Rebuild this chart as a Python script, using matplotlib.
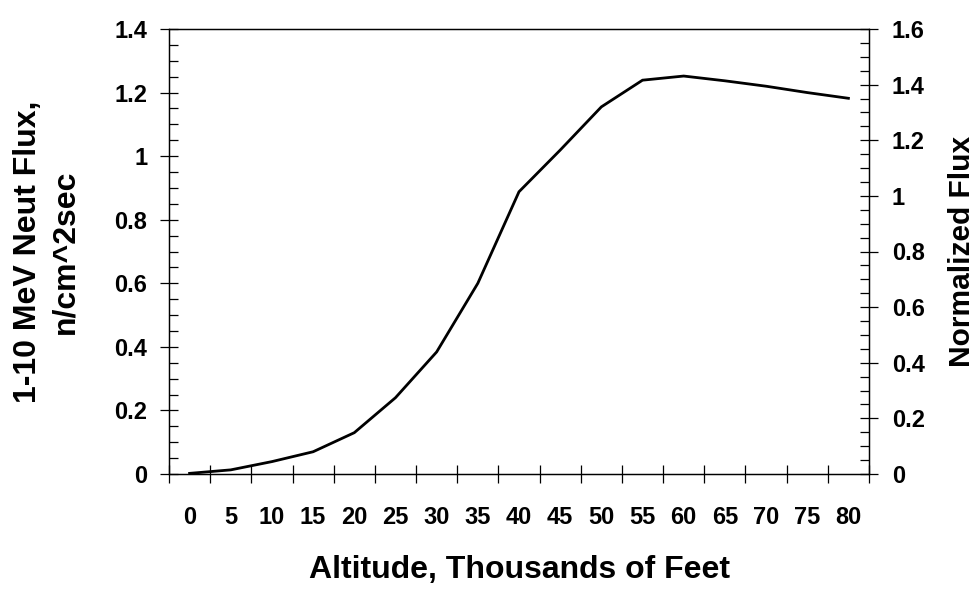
import numpy as np
import matplotlib
matplotlib.use("Agg")
import matplotlib.pyplot as plt
from matplotlib.ticker import FixedLocator, MultipleLocator

plt.rcParams["font.family"] = ["Liberation Sans", "DejaVu Sans"]

# altitude categories (thousands of feet) and flux
altitude = [0, 5, 10, 15, 20, 25, 30, 35, 40, 45, 50, 55, 60, 65, 70, 75, 80]
flux = [0.002, 0.013, 0.039, 0.07, 0.13, 0.24, 0.384, 0.60, 0.888, 1.019,
        1.155, 1.239, 1.252, 1.237, 1.22, 1.2, 1.182]
left_ticks = [0, 0.2, 0.4, 0.6, 0.8, 1, 1.2, 1.4]
right_ticks = [0, 0.2, 0.4, 0.6, 0.8, 1, 1.2, 1.4, 1.6]

TICK_FS = 17
LABEL_FS = 23

fig = plt.figure(figsize=(9.8, 5.89), dpi=100)
ax = fig.add_axes([169/980, 1-474/589, 700/980, 445/589])

pos = np.arange(len(altitude))
ax.plot(pos, flux, color="black", lw=2.0, solid_joinstyle="miter")

ax.set_xlim(-0.5, len(altitude) - 0.5)
ax.set_ylim(0, 1.4)

# category axis: tick marks between categories, labels at centres
ax.xaxis.set_major_locator(FixedLocator(np.arange(-0.5, len(altitude), 1.0)))
ax.xaxis.set_major_formatter(plt.NullFormatter())
ax.xaxis.set_minor_locator(FixedLocator(pos))
ax.set_xticklabels([str(a) for a in altitude], minor=True, fontweight="bold")
ax.tick_params(axis="x", which="major", direction="inout", length=13, width=0.9)
ax.tick_params(axis="x", which="minor", length=0, pad=23, labelsize=TICK_FS)

ax.yaxis.set_major_locator(FixedLocator(left_ticks))
ax.yaxis.set_minor_locator(MultipleLocator(0.05))
ax.set_yticklabels([("%g" % t) for t in left_ticks], fontweight="bold")
ax.tick_params(axis="y", which="major", direction="inout", length=13, width=0.9,
               pad=9, labelsize=TICK_FS)
ax.tick_params(axis="y", which="minor", direction="in", length=6.5, width=0.9)

ax2 = ax.twinx()
ax2.set_ylim(0, 1.6)
ax2.yaxis.set_major_locator(FixedLocator(right_ticks))
ax2.yaxis.set_minor_locator(MultipleLocator(0.05))
ax2.set_yticklabels([("%g" % t) for t in right_ticks], fontweight="bold")
ax2.tick_params(axis="y", which="major", direction="inout", length=13, width=0.9,
                pad=10, labelsize=TICK_FS)
ax2.tick_params(axis="y", which="minor", direction="in", length=6.5, width=0.9)

for a in (ax, ax2):
    for s in a.spines.values():
        s.set_linewidth(0.9)

ax.set_xlabel("Altitude, Thousands of Feet", fontsize=LABEL_FS, fontweight="bold")
ax.xaxis.set_label_coords(0.5, -0.183)
ax.set_ylabel("1-10 MeV Neut Flux,\nn/cm^2sec", fontsize=LABEL_FS, fontweight="bold",
              linespacing=1.3)
ax.yaxis.set_label_coords(-0.127, 0.5)
ax2.set_ylabel("Normalized Flux", fontsize=21.5, fontweight="bold", rotation=90)
ax2.yaxis.set_label_coords(1.113, 0.5)

fig.savefig("out.png", dpi=100)
